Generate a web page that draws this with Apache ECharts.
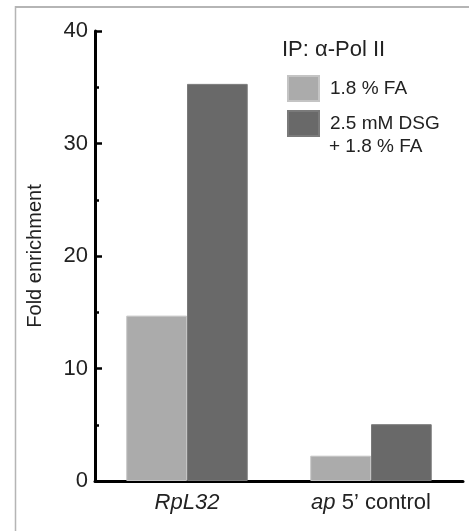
<!DOCTYPE html>
<html>
<head>
<meta charset="utf-8">
<script src="https://cdn.jsdelivr.net/npm/echarts@6/dist/echarts.min.js"></script>
<style>
html,body{margin:0;padding:0;background:#fff;}
#chart{width:469px;height:531px;}
</style>
</head>
<body>
<div id="chart"></div>
<script>
var categories = ['RpL32', 'ap 5\u2019 control'];
var seriesNames = ['1.8 % FA', '2.5 mM DSG\n+ 1.8 % FA'];
var faValues = [14.7, 2.25];
var dsgValues = [35.3, 5.05];
var yTicks = [0, 10, 20, 30, 40];

var FONT = '"Liberation Sans", Arial, Helvetica, sans-serif';
var chart = echarts.init(document.getElementById('chart'));
chart.setOption({
  animation: false,
  textStyle: {fontFamily: FONT},
  grid: {left: 95, right: 6, top: 31, bottom: 50},
  legend: {
    orient: 'vertical',
    left: 287, top: 75, padding: 0,
    itemWidth: 31, itemHeight: 25, itemGap: 8,
    icon: 'rect',
    selectedMode: false,
    data: seriesNames,
    formatter: function (n) { return n.split('\n')[0]; },
    textStyle: {fontSize: 19, color: '#222', fontFamily: FONT, padding: [0, 0, 0, 6]}
  },
  graphic: [
    {type: 'line', shape: {x1: 15, y1: 7, x2: 469, y2: 7}, style: {stroke: '#b5b5b5', lineWidth: 2}},
    {type: 'line', shape: {x1: 15.5, y1: 6, x2: 15.5, y2: 531}, style: {stroke: '#b5b5b5', lineWidth: 1.5}},
    {type: 'text', left: 282, top: 39, style: {text: 'IP: \u03b1-Pol II', fontSize: 22, fill: '#222', fontFamily: FONT}},
    {type: 'text', left: 329, top: 137, style: {text: seriesNames[1].split('\n')[1], fontSize: 19, fill: '#222', fontFamily: FONT}}
  ],
  xAxis: {
    type: 'category',
    data: categories,
    axisLine: {lineStyle: {color: '#000', width: 3}},
    axisTick: {show: false},
    axisLabel: {
      interval: 0,
      margin: 11,
      fontSize: 22,
      color: '#222',
      formatter: function (v) {
        if (v === categories[0]) return '{i|' + v + '}';
        return '{i|ap}{n|' + v.slice(2) + '}';
      },
      rich: {
        i: {fontStyle: 'italic', fontSize: 22, color: '#222', fontFamily: FONT},
        n: {fontSize: 22, color: '#222', fontFamily: FONT}
      }
    }
  },
  yAxis: {
    type: 'value',
    min: yTicks[0], max: yTicks[yTicks.length - 1], interval: 10,
    name: 'Fold enrichment',
    nameLocation: 'middle',
    nameGap: 50,
    nameTextStyle: {fontSize: 20, color: '#222', fontFamily: FONT},
    axisLine: {show: true, lineStyle: {color: '#000', width: 3}},
    axisTick: {show: true, inside: true, length: 7, lineStyle: {color: '#000', width: 2.5}},
    minorTick: {show: true, splitNumber: 2, length: 4, lineStyle: {color: '#000', width: 2.5}},
    splitLine: {show: false},
    axisLabel: {fontSize: 22, color: '#222', margin: 7}
  },
  series: [
    {name: seriesNames[0], type: 'bar', data: faValues, barGap: '0%', barCategoryGap: '34%',
     itemStyle: {color: '#ababab', borderColor: '#c4c4c4', borderWidth: 1}},
    {name: seriesNames[1], type: 'bar', data: dsgValues,
     itemStyle: {color: '#696969', borderColor: '#7a7a7a', borderWidth: 1}}
  ]
});
</script>
</body>
</html>
